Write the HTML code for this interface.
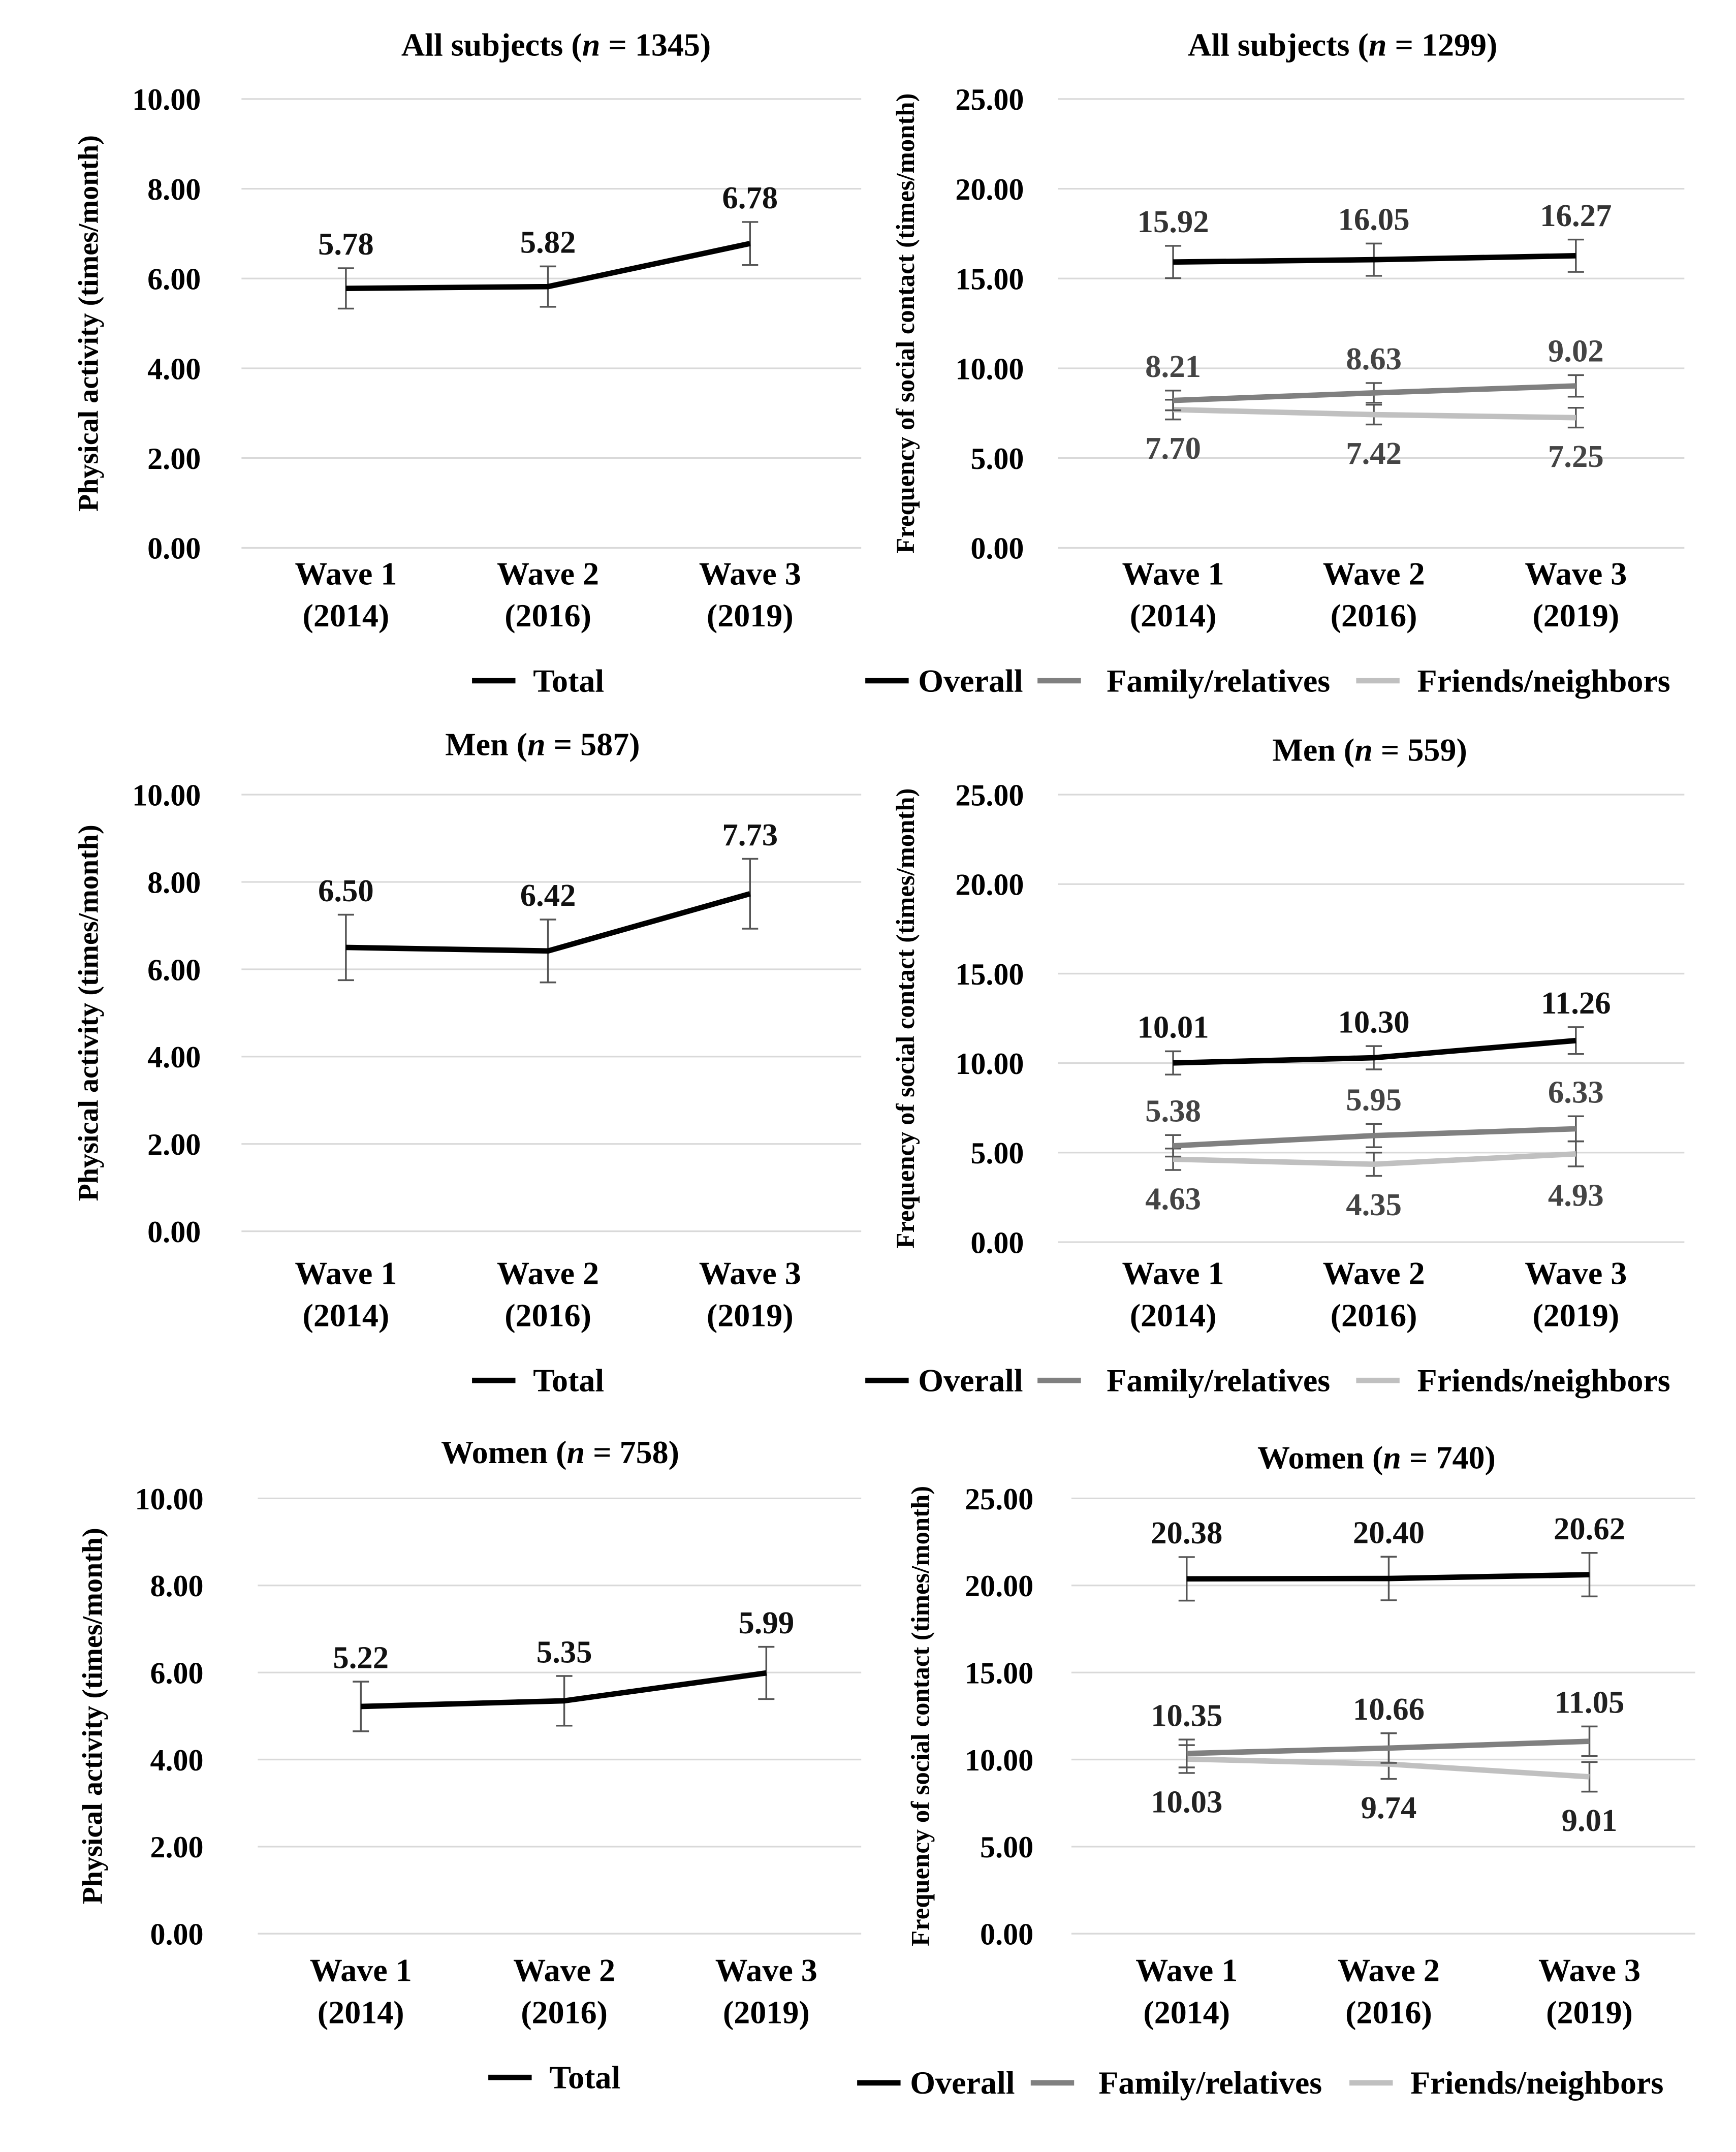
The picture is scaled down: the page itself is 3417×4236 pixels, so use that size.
<!DOCTYPE html>
<html><head><meta charset="utf-8"><style>
html,body{margin:0;padding:0;background:#fff;}
svg{display:block;font-family:"Liberation Serif",serif;font-weight:bold;}
</style></head><body>
<svg id="chart" width="3417" height="4236" viewBox="0 0 1280 1587" xmlns="http://www.w3.org/2000/svg"></svg>
<script>
const categoriesTop = ["Wave 1", "Wave 2", "Wave 3"];
const categoriesBottom = ["(2014)", "(2016)", "(2019)"];
const paTicks = ["0.00","2.00","4.00","6.00","8.00","10.00"];
const scTicks = ["0.00","5.00","10.00","15.00","20.00","25.00"];
const allPA = [5.78, 5.82, 6.78];
const allPAErr = [0.45, 0.45, 0.48];
const allOverall = [15.92, 16.05, 16.27];
const allFamily = [8.21, 8.63, 9.02];
const allFriends = [7.70, 7.42, 7.25];
const allOverallErr = [0.9, 0.9, 0.9];
const allFamilyErr = [0.55, 0.55, 0.6];
const allFriendsErr = [0.55, 0.55, 0.55];
const menPA = [6.50, 6.42, 7.73];
const menPAErr = [0.75, 0.72, 0.8];
const menOverall = [10.01, 10.30, 11.26];
const menFamily = [5.38, 5.95, 6.33];
const menFriends = [4.63, 4.35, 4.93];
const menOverallErr = [0.65, 0.65, 0.75];
const menFamilyErr = [0.6, 0.65, 0.7];
const menFriendsErr = [0.6, 0.65, 0.7];
const womenPA = [5.22, 5.35, 5.99];
const womenPAErr = [0.57, 0.57, 0.6];
const womenOverall = [20.38, 20.40, 20.62];
const womenFamily = [10.35, 10.66, 11.05];
const womenFriends = [10.03, 9.74, 9.01];
const womenOverallErr = [1.25, 1.25, 1.25];
const womenFamilyErr = [0.8, 0.85, 0.85];
const womenFriendsErr = [0.8, 0.85, 0.85];

const NS = "http://www.w3.org/2000/svg";
const svg = document.getElementById("chart");
function mk(tag, attrs, parent, text){
  const e = document.createElementNS(NS, tag);
  for (const k in attrs) e.setAttribute(k, attrs[k]);
  if (text !== undefined) e.textContent = text;
  (parent || svg).appendChild(e);
  return e;
}

const panels = [
 {title:"All subjects", n:"1345", tx:410, ty:41, top:73, bot:404, gx0:178, gx1:635, tickX:148, cx:[255,404,553], lab1:431, lab2:462, legY:510, yTitle:"Physical activity (times/month)", ytx:72, ymax:10, ticks:paTicks,
  series:[{v:allPA, e:allPAErr, c:"#000", lc:"#111", pos:"above", name:"Total"}], legend:[{x:348,tx:393,name:"Total",c:"#000"}]},
 {title:"All subjects", n:"1299", tx:990, ty:41, top:73, bot:404, gx0:780, gx1:1242, tickX:755, cx:[865,1013,1162], lab1:431, lab2:462, legY:510, yTitle:"Frequency of social contact (times/month)", ytx:674, ymax:25, ticks:scTicks, small:true,
  series:[{v:allOverall,e:allOverallErr,c:"#000",lc:"#333",pos:"above",name:"Overall"},{v:allFamily,e:allFamilyErr,c:"#808080",lc:"#444",pos:"above",name:"Family"},{v:allFriends,e:allFriendsErr,c:"#c0c0c0",lc:"#444",pos:"below",name:"Friends"}],
  legend:[{x:638,tx:677,name:"Overall",c:"#000"},{x:765,tx:816,name:"Family/relatives",c:"#808080"},{x:1000,tx:1045,name:"Friends/neighbors",c:"#c0c0c0"}]},
 {title:"Men", n:"587", tx:400, ty:557, top:586, bot:908, gx0:178, gx1:635, tickX:148, cx:[255,404,553], lab1:947, lab2:978, legY:1026, yTitle:"Physical activity (times/month)", ytx:72, ymax:10, ticks:paTicks,
  series:[{v:menPA,e:menPAErr,c:"#000",lc:"#111",pos:"above",name:"Total"}], legend:[{x:348,tx:393,name:"Total",c:"#000"}]},
 {title:"Men", n:"559", tx:1010, ty:561, top:586, bot:916, gx0:780, gx1:1242, tickX:755, cx:[865,1013,1162], lab1:947, lab2:978, legY:1026, yTitle:"Frequency of social contact (times/month)", ytx:674, ymax:25, ticks:scTicks, small:true,
  series:[{v:menOverall,e:menOverallErr,c:"#000",lc:"#111",pos:"above",name:"Overall"},{v:menFamily,e:menFamilyErr,c:"#808080",lc:"#444",pos:"above",name:"Family"},{v:menFriends,e:menFriendsErr,c:"#c0c0c0",lc:"#444",pos:"below",name:"Friends"}],
  legend:[{x:638,tx:677,name:"Overall",c:"#000"},{x:765,tx:816,name:"Family/relatives",c:"#808080"},{x:1000,tx:1045,name:"Friends/neighbors",c:"#c0c0c0"}]},
 {title:"Women", n:"758", tx:413, ty:1079, top:1105, bot:1426, gx0:190, gx1:635, tickX:150, cx:[266,416,565], lab1:1461, lab2:1492, legY:1540, yTitle:"Physical activity (times/month)", ytx:75, ymax:10, ticks:paTicks,
  series:[{v:womenPA,e:womenPAErr,c:"#000",lc:"#111",pos:"above",name:"Total"}], legend:[{x:360,tx:405,name:"Total",c:"#000"}]},
 {title:"Women", n:"740", tx:1015, ty:1083, top:1105, bot:1426, gx0:790, gx1:1250, tickX:762, cx:[875,1024,1172], lab1:1461, lab2:1492, legY:1544, yTitle:"Frequency of social contact (times/month)", ytx:685, ymax:25, ticks:scTicks, small:true,
  series:[{v:womenOverall,e:womenOverallErr,c:"#000",lc:"#111",pos:"above",name:"Overall"},{v:womenFamily,e:womenFamilyErr,c:"#808080",lc:"#222",pos:"above",name:"Family"},{v:womenFriends,e:womenFriendsErr,c:"#c0c0c0",lc:"#222",pos:"below",name:"Friends"}],
  legend:[{x:632,tx:671,name:"Overall",c:"#000"},{x:760,tx:810,name:"Family/relatives",c:"#808080"},{x:995,tx:1040,name:"Friends/neighbors",c:"#c0c0c0"}]}
];

panels.forEach((p, pi) => {
  const g = mk("g", {});
  
  
  const y = v => p.bot - (v / p.ymax) * (p.bot - p.top);
  const t = mk("text", {x:p.tx, y:p.ty, "text-anchor":"middle", "font-size":24}, g);
  
  
  t.appendChild(document.createTextNode(p.title + " ("));
  mk("tspan", {"font-style":"italic"}, t, "n");
  t.appendChild(document.createTextNode(" = " + p.n + ")"));
  p.ticks.forEach((lab) => {
    const v = parseFloat(lab);
    const gl = mk("line", {x1:p.gx0, x2:p.gx1, y1:y(v), y2:y(v), stroke:"#d9d9d9", "stroke-width":1.2}, g);
    
    
    const tl = mk("text", {x:p.tickX, y:y(v)+8, "text-anchor":"end", "font-size":22.5}, g, lab);
    
    
  });
  const cy = (p.top + p.bot) / 2;
  const yt = mk("text", {x:p.ytx, y:cy, "text-anchor":"middle", "font-size":p.small?19:21, transform:`rotate(-90 ${p.ytx} ${cy})`}, g, p.yTitle);
  
  
  p.cx.forEach((x, i) => {
    const a = mk("text", {x:x, y:p.lab1, "text-anchor":"middle", "font-size":24}, g, categoriesTop[i]);
    
    
    const b = mk("text", {x:x, y:p.lab2, "text-anchor":"middle", "font-size":24}, g, categoriesBottom[i]);
    
    
  });
  p.series.slice().reverse().forEach(s => {
    s.v.forEach((v, i) => {
      const x = p.cx[i], y1 = y(v + s.e[i]), y2 = y(v - s.e[i]);
      const eb = mk("path", {d:`M${x},${y1}V${y2}M${x-6},${y1}H${x+6}M${x-6},${y2}H${x+6}`, stroke:"#555", "stroke-width":1.3, fill:"none"}, g);
      
      
    });
    const pts = s.v.map((v, i) => p.cx[i] + "," + y(v)).join(" ");
    const pl = mk("polyline", {points:pts, fill:"none", stroke:s.c, "stroke-width":4, "stroke-linejoin":"round"}, g);
    
    
    s.v.forEach((v, i) => {
      const ly = s.pos === "above" ? y(v + s.e[i]) - 10 : y(v - s.e[i]) + 29;
      const vl = mk("text", {x:p.cx[i], y:ly, "text-anchor":"middle", "font-size":23.5, fill:s.lc}, g, v.toFixed(2));
      
      
    });
  });
  p.legend.forEach(l => {
    const ll = mk("line", {x1:l.x, x2:l.x+32, y1:p.legY-8, y2:p.legY-8, stroke:l.c, "stroke-width":4}, g);
    
    
    const lt = mk("text", {x:l.tx, y:p.legY, "font-size":24}, g, l.name);
    
    
  });
});
</script>
</body></html>
